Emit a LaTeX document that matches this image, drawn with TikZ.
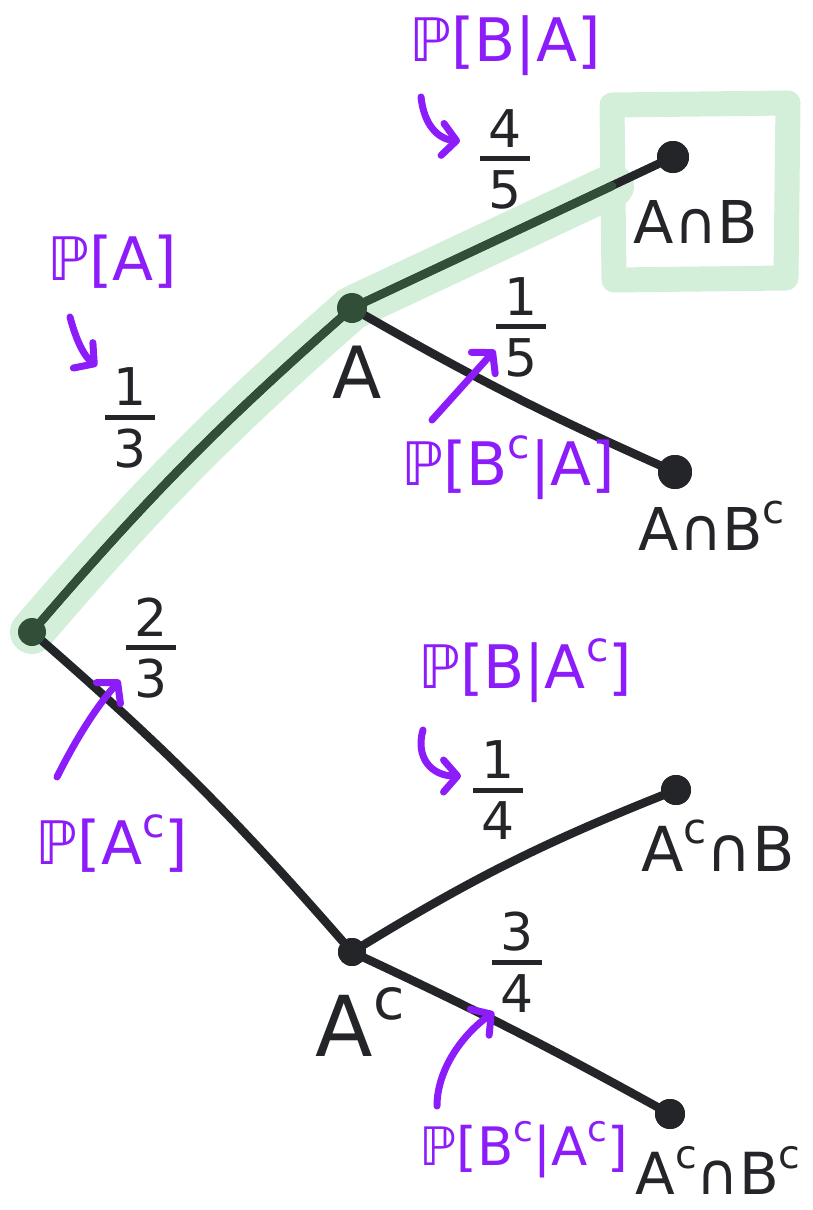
\documentclass[tikz,border=0pt]{standalone}
\usepackage{fontspec}
\setmainfont{DejaVu Sans}
\usetikzlibrary{arrows.meta}
\definecolor{ink}{RGB}{36,37,40}
\definecolor{pur}{RGB}{140,28,250}
\definecolor{hl}{RGB}{211,238,217}
\definecolor{dk}{RGB}{48,78,56}
\newcommand{\fr}[2]{\vbox{\offinterlineskip\halign{\hfil##\hfil\cr #1\cr\noalign{\kern9pt}\vrule width 50pt height 5pt depth 0pt\cr\noalign{\kern9pt}#2\cr}}}
\newcommand{\sps}[1]{\raisebox{0.45em}{\scalebox{0.68}{#1}}}
\begin{document}
\begin{tikzpicture}[x=1pt,y=-1pt,
  dot/.style={circle,fill=ink,inner sep=0pt,minimum size=30pt},
  branch/.style={line width=8.5pt,draw=ink,line cap=round},
  hlband/.style={line width=44pt,draw=hl,line cap=round,line join=round},
  prob/.style={text=pur,inner sep=0pt,font=\fontsize{60}{70}\selectfont},
  ev/.style={text=ink,inner sep=0pt},
  frac/.style={text=ink,inner sep=0pt,font=\fontsize{52}{60}\selectfont},
  parr/.style={draw=pur,line width=7pt,line cap=round,-{Straight Barb[length=14pt,width=32pt,round]}}]
\useasboundingbox (0,0) rectangle (813,1210);
% dots (positions)
\node[dot,minimum size=28pt] (r) at (32,632) {};
\node[dot] (a) at (352,308) {};
\node[dot,minimum size=32pt] (ab) at (673,157) {};
\node[dot,minimum size=34pt] (abc) at (675,472) {};
\node[dot,minimum size=28pt] (ac) at (352,952) {};
\node[dot] (acb) at (676,790) {};
\node[dot] (acbc) at (670,1114) {};
\coordinate (bx) at (612,186);
% highlight
\draw[hlband] (r.center) to[bend left=4] (a.center) -- (bx);
\draw[draw=hl,line width=25pt,line join=round] (612,105) -- (788,103) -- (786,278) -- (614,280) -- cycle;
% branches
\draw[branch] (r.center) to[bend left=4] (a.center);
\draw[branch] (a.center) -- (ab.center);
\draw[branch] (a.center) to[bend right=3] (abc.center);
\draw[branch] (r.center) to[bend left=4] (ac.center);
\draw[branch] (ac.center) to[bend left=5] (acb.center);
\draw[branch] (ac.center) to[bend left=2] (acbc.center);
\draw[line width=8.5pt,draw=dk,line cap=round] (r.center) to[bend left=4] (a.center) -- (bx);
% redraw dots on top
\node[dot,fill=dk,minimum size=28pt] at (r) {};
\node[dot,fill=dk] at (a) {};
\node[dot,minimum size=32pt] at (ab) {};
\node[dot,minimum size=34pt] at (abc) {};
\node[dot,minimum size=28pt] at (ac) {};
\node[dot] at (acb) {};
\node[dot] at (acbc) {};
% event labels
\node[ev,font=\fontsize{72}{80}\selectfont] (la) at (357,372) {A};
\node[ev,font=\fontsize{84}{90}\selectfont] (lac) at (360,1022) {A\sps{c}};
\node[ev,font=\fontsize{59}{66}\selectfont] (lab) at (696,222) {A∩B};
\node[ev,font=\fontsize{59}{66}\selectfont] (labc) at (712,526) {A∩B\sps{c}};
\node[ev,font=\fontsize{62}{70}\selectfont] (lacb) at (718,846) {A\sps{c}∩B};
\node[ev,font=\fontsize{58}{66}\selectfont] (lacbc) at (718,1170) {A\sps{c}∩B\sps{c}};
% fractions
\node[frac] (f45) at (505,159) {\fr{4}{5}};
\node[frac] (f13) at (130,418) {\fr{1}{3}};
\node[frac] (f15) at (521,327) {\fr{1}{5}};
\node[frac] (f23) at (151,648) {\fr{2}{3}};
\node[frac] (f14) at (498,790) {\fr{1}{4}};
\node[frac] (f34) at (517,962) {\fr{3}{4}};
% probability labels
\node[prob] (pba) at (505,46) {ℙ[B|A]};
\node[prob] (pa) at (112,262) {ℙ[A]};
\node[prob] (pbca) at (508,468) {ℙ[B\sps{c}|A]};
\node[prob] (pac) at (112,844) {ℙ[A\sps{c}]};
\node[prob] (pbac) at (525,671) {ℙ[B|A\sps{c}]};
\node[prob,font=\fontsize{53}{60}\selectfont] (pbcac) at (524,1150) {ℙ[B\sps{c}|A\sps{c}]};
% purple arrows
\coordinate (t1) at (460,141);
\coordinate (t2) at (97,366);
\coordinate (t3) at (495,350);
\coordinate (t4) at (120,680);
\coordinate (t5) at (461,776);
\coordinate (t6) at (494,1012);
\draw[parr] (421,97) .. controls (424,125) and (438,139) .. (t1);
\draw[parr] (70,317) .. controls (76,340) and (84,356) .. (t2);
\draw[parr] (432,420) -- (t3);
\draw[parr] (57,777) .. controls (78,735) and (98,705) .. (t4);
\draw[parr] (423,730) .. controls (415,758) and (432,776) .. (t5);
\draw[parr] (437,1106) .. controls (437,1070) and (462,1035) .. (t6);
\end{tikzpicture}
\end{document}
